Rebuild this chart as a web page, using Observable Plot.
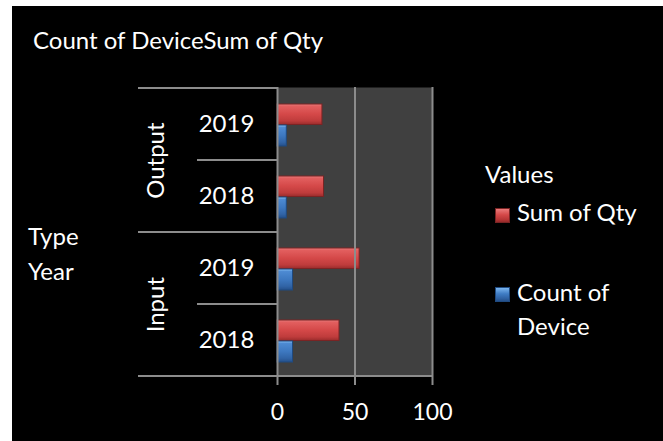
<!DOCTYPE html>
<html><head><meta charset="utf-8">
<script src="https://cdn.jsdelivr.net/npm/d3@7"></script>
<script src="https://cdn.jsdelivr.net/npm/@observablehq/plot@0.6"></script>
<style>
html,body{margin:0;padding:0;background:#fff;width:663px;height:441px;overflow:hidden}
#bg{position:absolute;left:12px;top:6px;width:651px;height:435px;background:#000}
#chart{position:absolute;left:0;top:0}
.lbl{position:absolute;color:#fff;font-family:Lato,sans-serif;font-size:24px;line-height:24px;white-space:nowrap}
.sw{position:absolute;width:15px;height:15px;box-sizing:border-box}
</style></head><body>
<div id="bg"></div>
<div id="chart"></div>
<div class="lbl" style="left:33px;top:28px">Count of DeviceSum of Qty</div>
<div class="lbl" style="left:28px;top:224px">Type</div>
<div class="lbl" style="left:28px;top:259px">Year</div>
<div class="lbl" style="left:485px;top:162px">Values</div>
<div class="sw" style="left:495px;top:208px;background:linear-gradient(#ea7a7a,#d44848 45%,#b83636 80%,#962a2a);border:1px solid #7a2424"></div>
<div class="lbl" style="left:517px;top:200px">Sum of Qty</div>
<div class="sw" style="left:495px;top:287px;background:linear-gradient(#7ab4ee,#3f7cc4 45%,#2f62a4 80%,#24508a);border:1px solid #1f4a80"></div>
<div class="lbl" style="left:517px;top:280px">Count of</div>
<div class="lbl" style="left:517px;top:314px">Device</div>
<script>
// ---- data ----
const groups = ["Output", "Output", "Input", "Input"];
const years = ["2019", "2018", "2019", "2018"];
const sumOfQty = [29, 30, 53, 40];
const countOfDevice = [6, 6, 10, 10];
const xTicks = [0, 50, 100];
const groupNames = ["Output", "Input"];

const rows = groups.map((g, i) => ({key: g + " " + years[i], group: g, year: years[i], sum: sumOfQty[i], count: countOfDevice[i]}));
const keys = rows.map(d => d.key);
const groupFirst = groupNames.map(g => ({group: g, key: rows.find(r => r.group === g).key}));

// ---- layout ----
const W = 663, H = 441, mL = 277, mR = 231, mT = 87, mB = 65;
const bandH = (H - mT - mB) / keys.length;
const gridColor = "#8c8c8c";

const plot = Plot.plot({
  width: W, height: H,
  marginLeft: mL, marginRight: mR, marginTop: mT, marginBottom: mB,
  style: {background: "transparent", color: "#fff", fontFamily: "Lato, sans-serif", fontSize: "24px", overflow: "visible"},
  x: {domain: [xTicks[0], xTicks[xTicks.length - 1]], ticks: xTicks},
  y: {type: "band", domain: keys, padding: 0, axis: null},
  marks: [
    Plot.frame({fill: "#404040", stroke: "none"}),
    Plot.barX(rows, {x: "sum", y: "key", fill: "url(#gRed)", stroke: "#7a2424", strokeWidth: 1, insetTop: 16, insetBottom: 35.5}),
    Plot.barX(rows, {x: "count", y: "key", fill: "url(#gBlue)", stroke: "#1f4a80", strokeWidth: 1, insetTop: 37, insetBottom: 14}),
    Plot.ruleX(xTicks, {stroke: gridColor, strokeWidth: 2, insetBottom: -9}),
    Plot.axisX({ticks: xTicks, tickSize: 0, tickPadding: 27, label: null, fontSize: 23}),
    Plot.text(rows, {y: "key", text: "year", frameAnchor: "left", textAnchor: "middle", dx: -51, fill: "#fff", fontSize: 24}),
    Plot.text(groupFirst, {y: "key", text: "group", frameAnchor: "left", textAnchor: "middle", dx: -121, dy: bandH / 2, rotate: -90, fill: "#fff", fontSize: 24})
  ]
});
document.getElementById("chart").appendChild(plot);

// gradients for the bevelled bars
const svg = d3.select(plot);
const defs = svg.insert("defs", ":first-child");
function grad(id, stops) {
  const g = defs.append("linearGradient").attr("id", id).attr("x1", 0).attr("y1", 0).attr("x2", 0).attr("y2", 1);
  stops.forEach(([o, c]) => g.append("stop").attr("offset", o).attr("stop-color", c));
}
grad("gRed", [[0, "#e67a7a"], [0.12, "#e25e5e"], [0.5, "#d44848"], [0.82, "#bf3c3c"], [1, "#9a2c2c"]]);
grad("gBlue", [[0, "#86c0f4"], [0.12, "#4d8ad2"], [0.5, "#3d78c0"], [0.82, "#3164a6"], [1, "#24508a"]]);

// category-axis separator lines, placed through the plot's scales
const ys = plot.scale("y"), xs = plot.scale("x");
const x0 = xs.apply(xTicks[0]), xEnd = xs.apply(xTicks[xTicks.length - 1]);
const groupLeft = 138, yearLeft = 197;
const bw = ys.bandwidth;
const segs = [];
keys.forEach((k, i) => {
  const top = ys.apply(k);
  const first = i === 0 || rows[i - 1].group !== rows[i].group;
  segs.push({y: top, x1: first ? groupLeft : yearLeft, x2: x0});
});
segs.push({y: ys.apply(keys[keys.length - 1]) + bw, x1: groupLeft, x2: xEnd});
svg.append("g").selectAll("line").data(segs).join("line")
  .attr("x1", d => d.x1).attr("x2", d => d.x2).attr("y1", d => d.y).attr("y2", d => d.y)
  .attr("stroke", gridColor).attr("stroke-width", 2);
</script>
</body></html>
